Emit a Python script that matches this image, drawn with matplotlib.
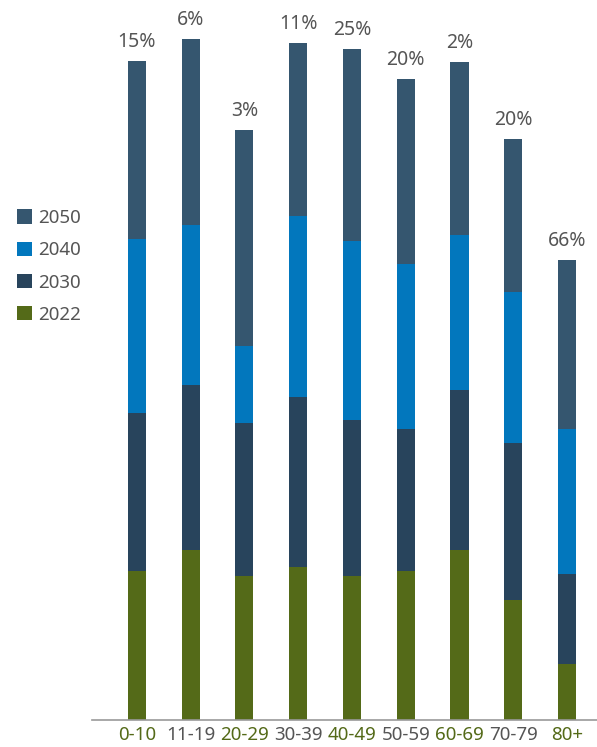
import numpy as np
import matplotlib.pyplot as plt

plt.rcParams['font.family'] = ['Noto Sans', 'DejaVu Sans']

ages = ['0-10', '11-19', '20-29', '30-39', '40-49', '50-59', '60-69', '70-79', '80+']
years = ['2022', '2030', '2040', '2050']

# stacked segment heights (arbitrary units)
v2022 = [14.9, 17.0, 14.4, 15.3, 14.4, 14.9, 17.0, 12.0, 5.6]
v2030 = [15.8, 16.5, 15.3, 17.0, 15.6, 14.2, 16.0, 15.7, 9.0]
v2040 = [17.4, 16.0, 7.7, 18.1, 17.9, 16.5, 15.5, 15.1, 14.5]
v2050 = [17.8, 18.6, 21.6, 17.3, 19.2, 18.5, 17.3, 15.3, 16.9]
pct = ['15%', '6%', '3%', '11%', '25%', '20%', '2%', '20%', '66%']

colors = {'2022': '#546A18', '2030': '#28445C', '2040': '#0277BD', '2050': '#35566F'}
label_colors = ['#546A18', '#555555'] * 4 + ['#546A18']
text_gray = '#555555'

fig = plt.figure(figsize=(5.97, 7.47), dpi=100)
ax = fig.add_axes([92 / 597, 27 / 747, 1 - 92 / 597, 720 / 747])

x = np.arange(len(ages))
w = 0.335
bottom = np.zeros(len(ages))
bars = {}
for yr, vals in zip(years, [v2022, v2030, v2040, v2050]):
    bars[yr] = ax.bar(x, vals, w, bottom=bottom, color=colors[yr], label=yr)
    bottom = bottom + np.array(vals)

for xi, top, p in zip(x, bottom, pct):
    ax.annotate(p, (xi, top), xytext=(0, 10), textcoords='offset points',
                ha='center', va='baseline', fontsize=14, color=text_gray)

ax.set_xlim(-0.837, 8.558)
ax.set_ylim(0, 72)
ax.set_yticks([])
ax.set_xticks(x)
ax.set_xticklabels(ages, fontsize=13.5)
for lbl, c in zip(ax.get_xticklabels(), label_colors):
    lbl.set_color(c)
ax.tick_params(axis='x', length=0, pad=4)
for s in ['top', 'right', 'left']:
    ax.spines[s].set_visible(False)
ax.spines['bottom'].set_color('#999999')
ax.spines['bottom'].set_linewidth(1.2)

handles = [bars[y] for y in years[::-1]]
fig.legend(handles, years[::-1], loc='upper left', bbox_to_anchor=(17 / 597, 1 - 209 / 747),
           frameon=False, fontsize=13.5, handlelength=0.8, handleheight=0.8,
           handletextpad=0.35, labelspacing=0.76, borderpad=0, borderaxespad=0,
           labelcolor=text_gray)

fig.savefig('out.png', dpi=100)
